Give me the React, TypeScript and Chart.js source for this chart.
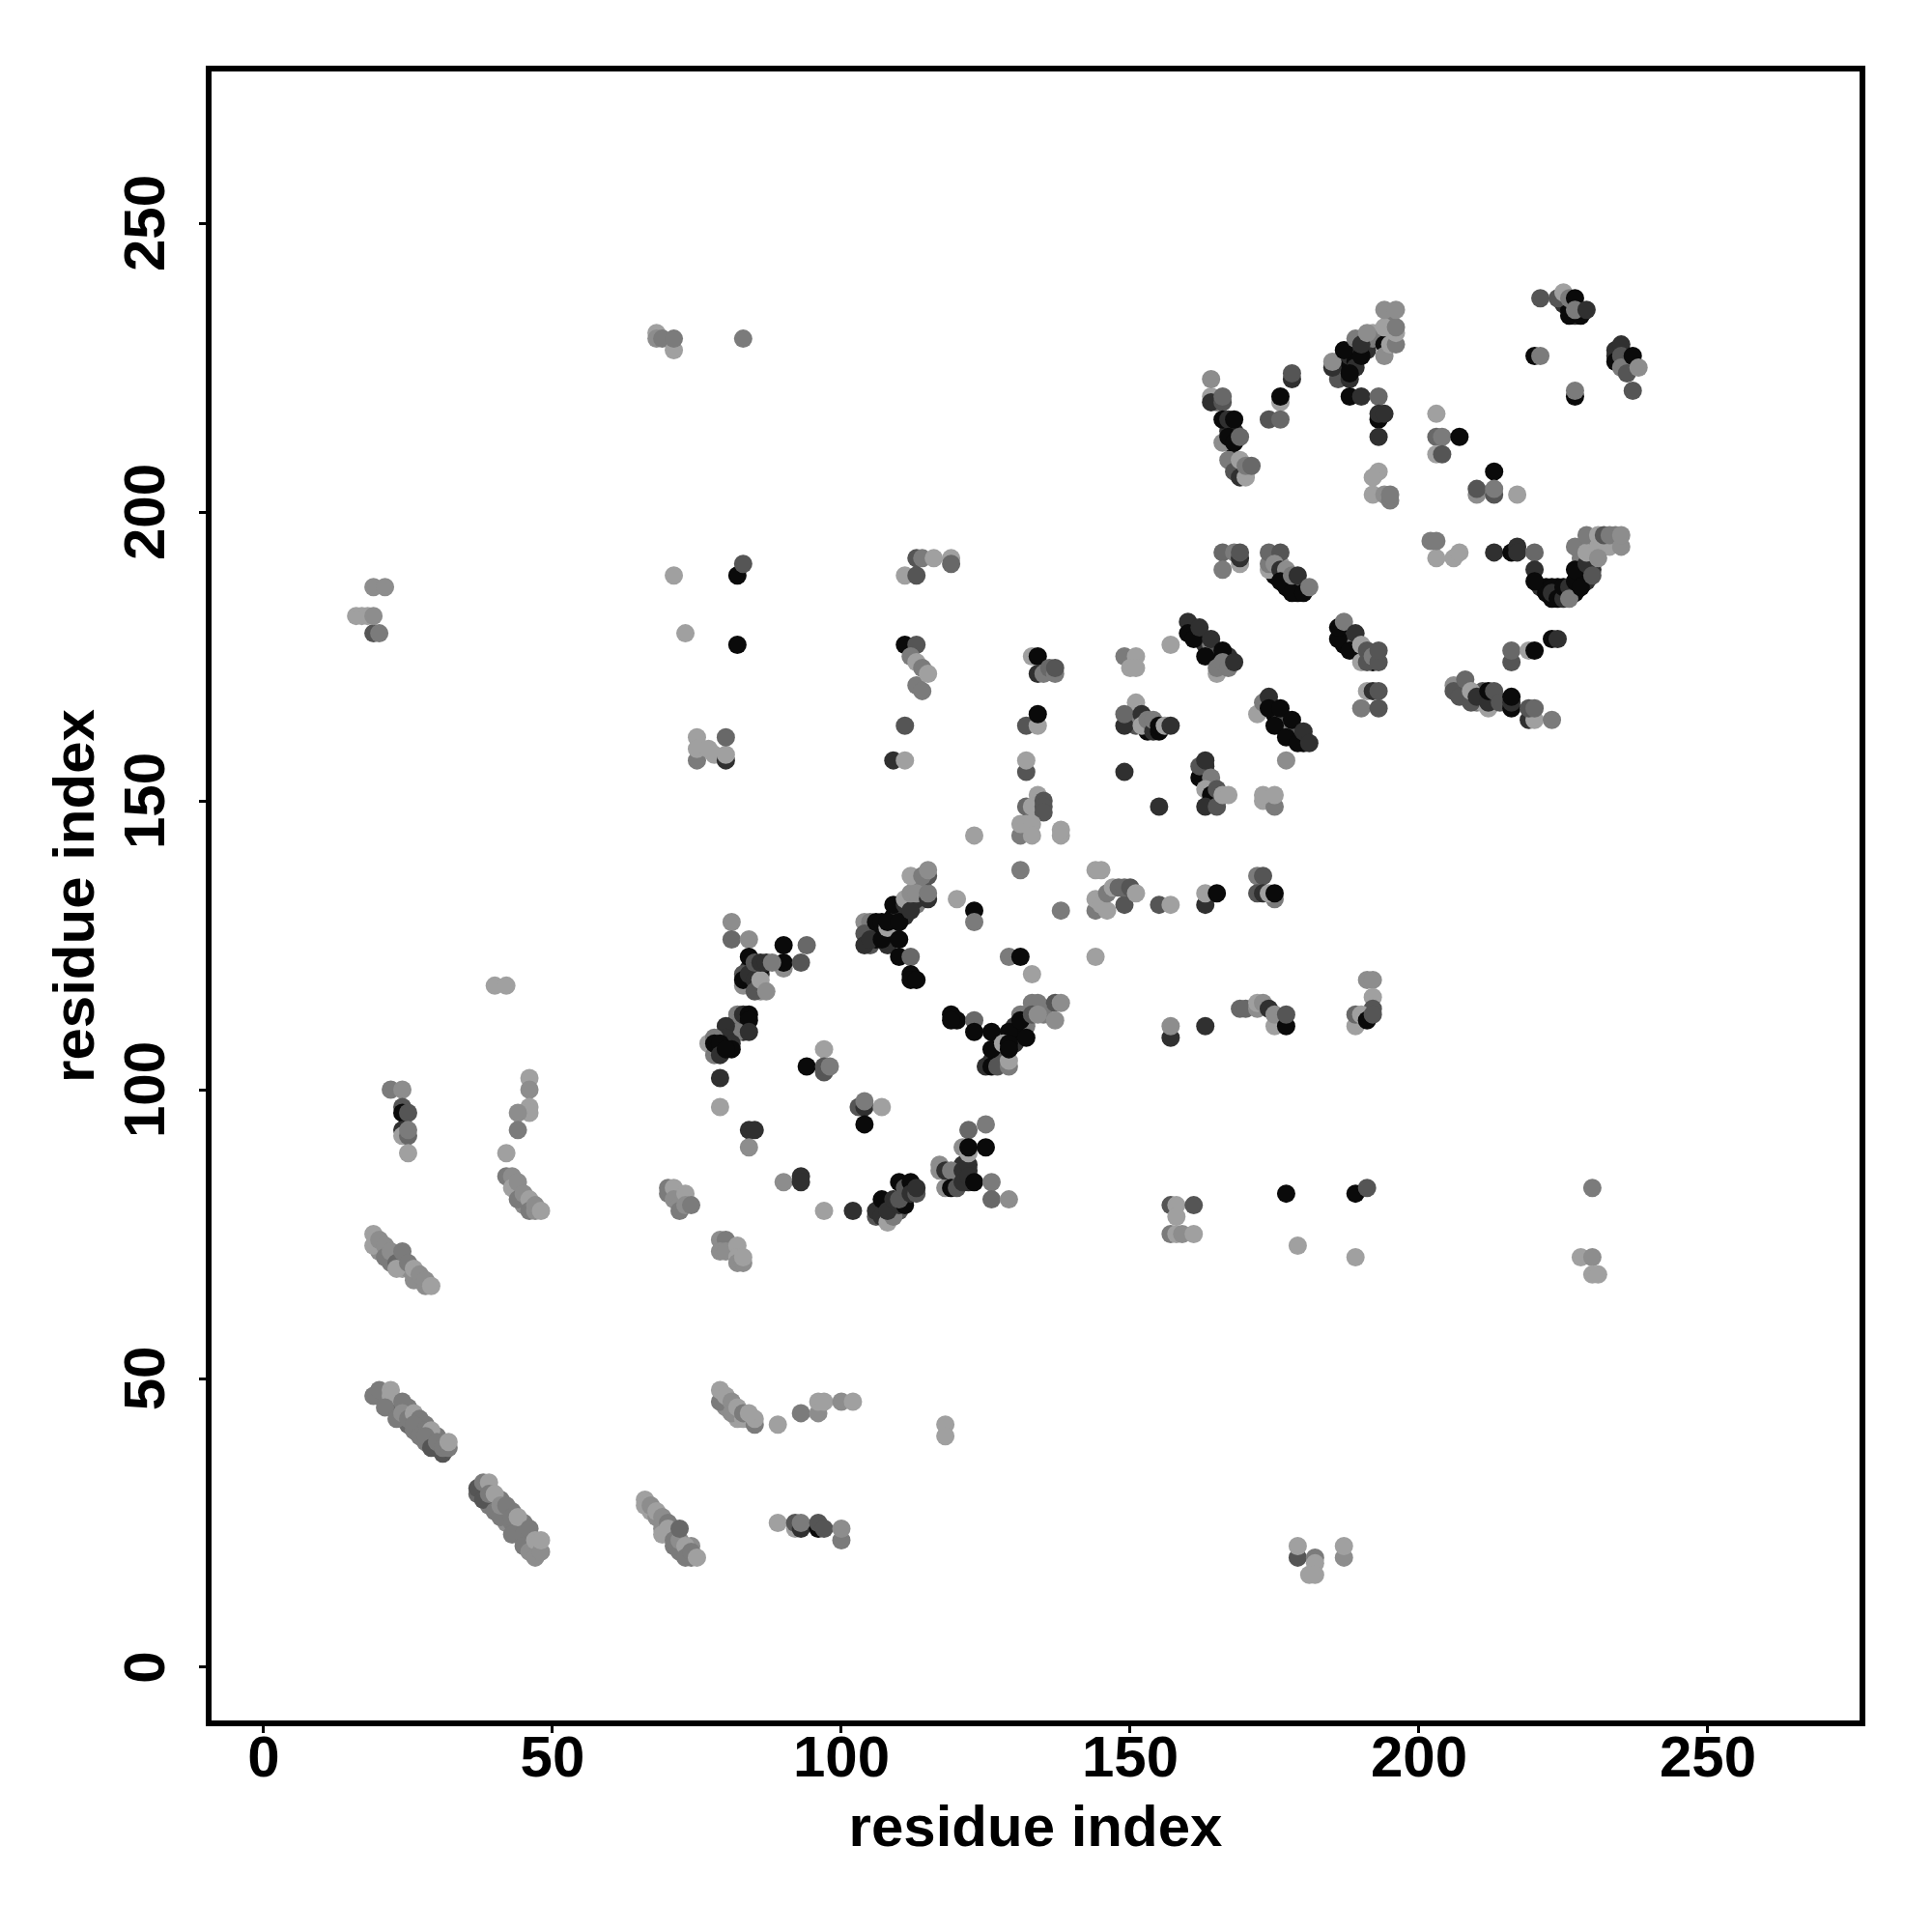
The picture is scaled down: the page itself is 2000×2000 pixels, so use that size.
import React, { useEffect, useRef } from "react";
import { Chart, registerables } from "chart.js";

Chart.register(...registerables);

// every row: residue i, residue j, shade (0 = near black ... 4 = light gray)
type Row = number[];

const contactsBandsLow: Row[] = [[21,46,3],[21,47,3],[23,45,3],[23,46,3],[24,45,2.5],[25,44,3],[25,45,3],[26,43,3],[27,42,2.5],[28,42,3],[29,40,3],[29,39,2.5],[30,38,2],[30,40,3],[31,39,3],[28,39,3],[27,41,3],[25,42,2.5],[26,41,3],[37,30,2.5],[38,30,2.5],[38,31,3],[39,31,3],[39,29,3],[39,28,3],[40,29,3],[40,28,2.5],[41,29,3],[41,27,3],[42,27,3],[42,26,3],[42,25,3.5],[43,25,3],[43,27,3],[44,25,3],[44,24,3],[45,25,3],[45,24,3],[46,22,3],[46,23,3],[47,21,3],[47,20,3],[67,27,4],[68,26,3.5],[69,25,3.5],[69,24,3.5],[70,23,3.5],[71,24,3.5],[71,23,3.5],[72,21,3],[72,20,3],[73,20,3],[74,19,3],[74,21,3.5],[20,72,3.5],[22,70,3],[23,71,3.5],[24,70,3.5],[24,69,4],[25,69,3.5],[26,68,3.5],[27,67,3.5],[26,67,3.5],[80,45,3.5],[82,44,3.5],[84,43,3.5],[82,43,4],[44,83,4],[45,80,3.5],[45,81,3.5],[44,82,4]];
const contactsBandsMid: Row[] = [[84,121,1],[85,120,2],[86,120,1],[86,121,0],[81,110,0],[81,111,0],[82,111,1],[82,112,0],[83,112,0],[83,111,0],[83,110,1],[80,108,0],[79,107,1],[79,109,2],[108,80,1],[108,78,2],[109,79,0],[109,80,1],[110,79,2],[111,81,0],[111,82,1],[112,83,0],[107,79,0],[107,80,0],[119,84,2],[120,85,3],[120,84,1],[121,85,2],[120,86,3],[121,87,1],[122,86,1],[122,84,1],[119,85,1],[107,128,1],[108,127,0],[109,128,1],[109,130,0],[110,131,1],[110,132,0],[111,130,1],[112,132,0],[113,132,3],[113,133,1],[114,134,3],[113,135,3],[114,135,1],[114,136,3],[105,127,3],[105,125,2],[106,127,2],[106,126,0],[108,125,1],[127,106,1],[128,106,0],[130,108,1],[131,110,0],[130,111,1],[131,109,1],[132,111,3],[128,107,2],[127,105,3],[126,105,1],[128,105,2],[130,110,0],[132,113,2],[131,113,3]];
const contactsBandsUpper: Row[] = [[161,180,2],[162,178,0],[163,178,2],[163,177,1],[164,176,0],[164,177,3],[165,175,1],[165,176,2],[166,175,0],[167,175,1],[167,174,0],[174,167,2],[175,165,0],[175,166,2],[176,164,0],[176,165,1],[177,163,0],[177,164,2],[178,162,0],[178,163,3],[179,161,0],[179,162,2],[180,160,0],[180,161,1],[187,178,0],[187,179,2],[187,177,0],[188,178,1],[189,177,3],[189,176,0],[190,176,1],[190,175,0],[191,175,2],[192,174,0],[175,189,0],[175,190,0],[176,189,1],[177,188,0],[177,187,0],[178,188,2],[179,187,0],[179,186,0],[178,187,1],[180,187,2],[176,191,4],[221,187,1],[222,186,0],[222,187,0],[223,185,0],[224,186,0],[224,187,0],[225,186,1],[226,186,0],[227,186,0],[228,189,1],[228,188,0],[229,188,1],[229,190,2],[230,191,3],[230,190,1],[228,190,0],[228,192,3],[230,193,0],[230,195,3],[232,194,4],[233,194,4],[234,196,3],[186,225,0],[186,226,1],[187,225,0],[187,224,0],[187,226,0],[188,225,0],[188,227,1],[189,226,0],[189,228,0],[189,225,1],[190,228,1],[191,228,1],[191,230,2],[192,230,3],[192,231,4],[193,231,4],[193,230,3],[195,231,4],[195,233,3],[207,169,1],[208,168,3],[208,169,2],[210,167,3],[211,167,4],[211,168,0],[213,167,0],[213,168,1],[211,169,2],[163,155,0],[163,154,1],[163,156,1],[164,153,2],[164,152,0],[165,150,1],[165,151,0],[164,150,2],[150,164,1],[151,163,2],[151,165,3],[153,162,0],[153,163,1],[165,219,3],[167,214,1],[167,212,0],[168,214,1],[168,209,1],[169,207,1],[169,208,2],[170,207,3],[225,236,1],[226,235,0],[227,234,1],[235,226,1],[236,226,2],[236,225,2],[234,228,1]];

const contactsLowA: Row[] = [[22,100,3],[24,100,3.5],[24,97,2],[24,96,0],[25,96,2],[24,93,1],[24,92,4],[25,92,2.5],[25,93,3],[25,89,4]];
const contactsLowB: Row[] = [[46,102,4],[46,100,3.5],[46,97,4],[46,96,4],[44,96,3.5],[44,93,3],[42,89,4],[42,85,3],[43,85,3.5],[43,83,4],[44,84,3.5],[44,81,3],[45,82,3.5],[46,81,4],[46,79,3],[47,79,3.5],[47,80,3.5],[48,79,4],[40,118,4],[42,118,4]];
const contactsLowC: Row[] = [[70,83,3],[70,82,3],[71,83,4],[71,81,3.5],[72,80,3.5],[72,79,3],[73,82,4],[73,80,3.5],[74,80,3]];
const contactsLowD: Row[] = [[19,75,4],[19,73,4],[20,74,3.5],[21,73,3.5],[21,71,3],[22,72,3.5],[23,70,2.5],[23,69,4],[24,72,3],[25,70,3],[26,69,4],[27,68,3.5],[28,66,3.5],[28,67,3.5],[29,66,4]];
const contactsLowE: Row[] = [[19,47,3],[20,48,3],[22,48,4],[22,47,4],[21,45,3],[24,46,3],[23,43,3],[24,44,3.5],[25,43,3],[26,44,4],[27,43,3],[26,42,3],[28,41,3],[29,41,4],[27,40,3],[28,40,3],[29,38,2],[30,39,3],[31,37,2],[31,38,3],[32,38,3],[32,39,4]];
const contactsLowF: Row[] = [[37,31,2],[38,29,2],[38,32,3],[39,32,4],[39,30,3],[40,30,4],[40,27,3],[41,26,3],[41,28,3.5],[42,28,3],[43,26,3],[43,23,3],[44,26,4],[45,23,3],[45,21,3],[46,24,3],[46,20,3.5],[47,22,4],[47,19,3.5],[48,20,3.5],[48,22,4]];
const contactsLowG: Row[] = [[66,29,4],[66,28,4],[67,28,3.5],[68,27,4],[69,26,3.5],[69,23,4],[70,25,3],[70,24,4],[71,21,3],[71,22,3],[72,22,3.5],[72,24,2.5],[73,21,4],[73,19,3],[74,20,3],[75,19,4]];
const contactsLowH: Row[] = [[79,46,3],[79,48,4],[80,47,4],[81,46,3.5],[81,44,3.5],[82,45,4],[83,43,4],[83,44,3],[85,42,3],[85,43,4],[84,44,4],[89,42,4],[93,44,3],[96,44,3.5],[96,46,4],[97,46,4],[100,46,3.5],[102,46,4],[118,42,4],[118,40,4]];
const contactsLowI: Row[] = [[89,25,4],[92,24,4],[92,25,2],[93,24,1],[93,25,3],[96,24,0],[96,25,2],[97,24,2],[100,22,3],[100,24,3.5]];
const contactsLowJ: Row[] = [[179,19,2],[179,21,4],[182,19,3],[182,18,4],[181,16,4],[182,16,4],[187,19,3.5],[187,21,4]];
const contactsLowK: Row[] = [[79,74,3.5],[80,74,3],[79,72,3.5],[80,72,3.5],[82,73,4],[82,71,4],[82,70,3.5],[83,70,3.5],[83,71,4]];

const contactsMidA: Row[] = [[81,129,3.5],[81,126,2.5],[84,126,3.5],[90,125,0],[94,125,2.5],[90,121,3.5],[90,122,0],[93,122,2],[83,118,3.5],[84,123,0],[83,120,2],[83,119,0],[84,120,1],[85,119,1],[85,122,2],[86,117,3.5],[85,117,2],[86,119,4],[87,117,3.5],[86,122,1],[87,122,1],[88,122,3]];
const contactsMidB: Row[] = [[82,113,3],[83,113,1],[84,113,0],[84,112,0],[82,110,3],[84,110,1],[80,111,1],[80,109,1],[81,108,1],[81,107,0],[77,108,4],[78,106,3],[78,109,3],[78,108,0],[79,108,0],[79,106,1],[80,107,0],[79,102,1],[79,97,4],[84,93,1],[85,93,1],[84,90,3.5]];
const contactsMidC: Row[] = [[97,107,4],[94,104,0],[97,103,2],[97,104,2],[98,104,3],[103,97,2],[104,97,1],[104,98,3],[107,97,4],[104,94,0],[90,84,3.5],[93,85,1],[93,84,1],[97,79,4],[102,79,1]];
const contactsMidD: Row[] = [[106,78,2],[106,79,1],[107,78,1],[108,77,4],[109,78,3],[107,81,0],[108,79,1],[109,81,1],[110,80,1],[111,80,0],[110,81,2],[110,84,0],[111,83,2],[112,84,0],[112,82,1],[113,82,2],[113,83,1]];
const contactsMidE: Row[] = [[117,87,3.5],[117,86,3.5],[118,83,3.5],[118,86,1],[119,86,3],[119,83,0],[120,83,2],[121,86,1],[121,84,1],[122,87,1],[122,85,1],[123,84,0],[122,93,2.5],[125,94,3],[121,90,3.5],[122,89,4],[122,90,0],[125,90,0],[126,84,3],[126,81,2.5],[129,81,3.5]];
const contactsMidF: Row[] = [[104,129,3.5],[105,129,3],[104,127,2],[104,125,1],[105,126,1],[106,129,0],[107,129,0],[107,126,0],[108,128,4],[108,129,0],[109,132,0],[110,129,0],[110,126,0],[110,123,0],[112,123,2.5],[112,120,0],[112,119,0],[113,119,0],[111,132,1],[111,133,4],[112,131,1],[112,134,3.5],[113,134,3.5],[115,133,1],[115,134,3],[112,137,4],[115,137,2],[114,137,3],[115,138,3.5]];
const contactsMidG: Row[] = [[120,133,4],[123,131,0],[123,129,3],[129,123,3],[131,123,0],[133,120,4],[131,138,3],[138,131,3]];
const contactsMidH: Row[] = [[119,113,0],[120,112,0],[119,112,0],[123,112,2.5],[123,110,0],[126,110,0],[129,110,0],[131,112,0],[132,109,0],[133,115,3],[134,115,3],[133,113,2],[135,113,3],[134,113,3.5],[137,115,2],[138,115,3.5],[137,112,3.5],[125,104,1],[126,104,0],[126,107,0],[127,104,2],[129,104,3],[129,105,4],[128,108,4],[129,108,0],[129,107,0]];

const contactsUpperA: Row[] = [[133,175,4],[134,175,0],[134,172,1],[135,172,3],[136,173,2.5],[137,172,3],[137,173,2],[132,163,2],[134,163,4],[134,165,0],[132,155,2],[132,157,4],[134,151,4],[132,149,2.5],[133,149,4],[135,150,2],[135,149,2],[135,148,2],[131,144,3],[131,146,4],[132,146,4],[133,146,4],[133,144,4],[138,144,4],[138,145,4],[123,144,4]];
const contactsUpperB: Row[] = [[144,138,4],[145,138,4],[144,131,3],[144,133,4],[145,132,4],[146,131,4],[146,134,3],[147,135,4],[149,132,2],[148,135,2.5],[149,135,2.5],[150,135,2],[151,134,4],[155,132,2],[157,132,4],[163,132,1],[163,134,4],[165,134,0],[172,137,3],[173,137,2],[172,134,2],[173,134,1],[175,133,3],[174,134,4],[175,134,0],[144,123,4]];
const contactsUpperC: Row[] = [[169,114,2.5],[170,114,2.5],[172,114,3.5],[172,115,4],[173,115,3.5],[174,114,1],[175,111,4],[175,113,3.5],[177,111,0],[177,113,2],[157,109,1],[157,111,3.5],[163,111,1],[191,119,3.5],[192,119,3.5],[192,116,4],[192,114,2],[189,111,4],[189,113,2.5],[190,113,4],[191,112,0],[192,113,2]];
const contactsUpperD: Row[] = [[149,175,3],[151,175,4],[150,173,4],[151,173,4],[157,177,4],[151,167,4],[149,163,1],[149,165,2.5],[152,165,1],[152,163,4],[153,164,3],[154,162,1],[154,164,3],[155,162,0],[155,163,0],[156,163,4],[157,163,1],[149,155,1],[155,149,1]];
const contactsUpperE: Row[] = [[162,154,0],[162,156,2],[163,157,1],[164,154,3],[163,152,4],[164,151,0],[165,152,2],[163,149,1],[165,149,2],[166,151,4],[167,151,4],[173,150,4],[175,149,3],[173,151,4],[175,151,4]];
const contactsUpperF: Row[] = [[165,172,4],[160,181,1],[160,179,0],[161,178,0],[162,180,1],[163,175,0],[164,178,1],[166,176,0],[165,173,3],[166,174,3],[167,173,3],[168,174,1],[172,165,4],[173,167,3],[174,168,1],[174,166,0],[176,166,0],[175,163,0],[178,164,0],[177,161,0],[179,160,0],[180,162,1],[181,160,1],[177,157,3.5]];
const contactsUpperG: Row[] = [[186,178,0],[186,180,0],[187,181,3],[188,176,0],[189,179,1],[190,177,4],[190,174,4],[191,176,2],[191,174,2],[192,175,3],[193,174,2],[193,176,2],[191,169,4],[192,169,1],[193,169,2],[190,166,3],[193,166,2]];
const contactsUpperH: Row[] = [[164,220,4],[164,219,1],[164,223,3.5],[166,219,2],[166,220,2.5],[178,223,1],[178,224,2],[176,219,4],[176,220,0],[174,216,2],[176,216,2.5],[166,216,0],[167,216,1],[168,216,0],[166,212,3.5],[167,213,0],[168,212,0],[169,213,2.5],[167,209,3],[168,207,2],[169,206,1],[170,206,4],[169,209,4],[170,208,3],[171,208,2.5]];
const contactsUpperI: Row[] = [[186,223,2],[185,225,1],[185,226,3.5],[188,223,1],[187,228,0],[188,224,0],[189,230,3],[190,227,0],[190,229,1],[191,231,3.5],[194,229,0],[194,227,3.5],[194,232,4],[195,229,4],[196,229,3],[196,231,4],[196,232,3],[194,235,3.5],[196,235,3.5],[188,220,0],[190,220,1],[193,220,2.5],[193,216,0],[193,217,1],[194,217,1],[193,213,1]];
const contactsUpperJ: Row[] = [[193,207,4],[192,206,4],[192,203,4],[194,203,3.5],[195,202,3],[195,203,3],[203,217,4],[203,213,2.5],[204,213,3],[207,213,0],[203,210,4],[204,210,2],[213,207,0],[210,203,3.5],[210,204,2],[213,203,2],[213,204,3],[217,203,4]];
const contactsUpperK: Row[] = [[221,237,2],[224,237,2],[225,238,4],[226,237,3],[226,234,0],[228,234,0],[227,237,0],[227,235,3],[229,235,1],[220,227,0],[221,227,3],[227,220,0],[227,221,3],[234,227,1],[234,226,0],[235,229,1],[235,227,2],[235,225,3],[237,227,0],[236,224,2],[238,225,3.5],[237,221,2]];
const contactsUpperL: Row[] = [[166,193,2.5],[168,193,3],[169,191,4],[169,192,1],[169,193,2],[166,190,3],[174,190,4],[174,191,3],[174,193,2.5],[176,193,2],[175,191,3.5],[176,190,1],[177,190,3.5],[176,188,0],[178,186,0],[180,186,0],[178,189,3],[179,189,1],[181,187,3]];
const contactsUpperM: Row[] = [[203,192,4],[202,195,3],[203,195,3],[206,192,4],[207,193,4],[213,193,1],[216,193,0],[217,194,1],[217,193,1],[220,193,2.5],[220,190,1],[220,188,0],[223,187,0],[223,186,1],[224,185,0],[225,185,1],[225,187,0],[226,187,1],[226,185,3],[227,188,0],[227,190,0],[228,187,0],[229,191,1],[230,189,2],[229,194,0],[227,194,3],[229,193,4],[229,196,3],[231,194,4],[231,196,4],[231,192,3.5],[232,196,2],[233,196,3],[235,194,3.5],[235,196,3.5]];
const contactsUpperN: Row[] = [[206,170,3.5],[206,169,2],[207,168,2],[208,171,2.5],[209,167,2],[209,169,4],[210,168,1],[212,166,4],[212,167,1],[212,169,0],[213,169,2],[214,167,2],[216,166,0],[216,167,1],[216,168,0],[219,164,1],[220,164,4],[219,166,2],[220,166,2.5],[223,164,3],[216,174,2],[216,176,2.5],[219,176,4],[220,176,0],[223,178,0],[224,178,1]];
const contactsFarA: Row[] = [[19,187,3.5],[21,187,3.5],[16,182,4],[17,182,4],[19,179,2],[20,179,3],[18,182,4],[19,182,3.5],[68,231,4],[68,230,3.5],[69,230,3],[71,228,4],[71,230,3],[83,230,3],[71,189,4],[82,189,0],[83,191,2],[73,179,4],[82,177,0],[75,157,3],[75,161,4],[75,159,4],[77,159,4],[78,158,4],[80,157,1],[80,158,4],[80,161,2.5]];
const contactsFarB: Row[] = [[109,157,1],[111,157,4],[111,163,2],[111,177,0],[113,177,2],[112,175,3],[113,174,4],[113,170,3],[114,173,3],[114,169,3],[115,172,4],[111,189,4],[113,189,2],[113,192,2],[114,192,3],[116,192,4],[119,192,4],[119,191,2.5]];
const contactsFarC: Row[] = [[230,83,3],[228,71,4],[230,71,3.5],[230,68,4],[231,68,4],[177,82,0],[189,82,0],[191,83,2],[179,73,4],[189,71,4],[157,80,2],[158,80,4],[161,80,2],[158,78,4],[157,75,3],[158,75,4],[159,75,3.5],[161,75,4]];

const allContacts: Row[] = [
  contactsBandsLow, contactsBandsMid, contactsBandsUpper,
  contactsLowA, contactsLowB, contactsLowC, contactsLowD, contactsLowE, contactsLowF,
  contactsLowG, contactsLowH, contactsLowI, contactsLowJ, contactsLowK,
  contactsMidA, contactsMidB, contactsMidC, contactsMidD, contactsMidE, contactsMidF,
  contactsMidG, contactsMidH,
  contactsUpperA, contactsUpperB, contactsUpperC, contactsUpperD, contactsUpperE,
  contactsUpperF, contactsUpperG, contactsUpperH, contactsUpperI, contactsUpperJ,
  contactsUpperK, contactsUpperL, contactsUpperM, contactsUpperN,
  contactsFarA, contactsFarB, contactsFarC,
].flat();

const axisTitle = "residue index";
const axisFont = { family: "'Liberation Sans'", size: 60, weight: "bold" as const, lineHeight: 1 };

const shadeToGray = (s: number) => {
  const g = Math.round(10 + s * 37.5);
  return `rgb(${g},${g},${g})`;
};

const framePlugin = {
  id: "frame",
  afterDatasetsDraw(chart: Chart) {
    const { ctx, chartArea: a } = chart;
    ctx.save();
    ctx.strokeStyle = "#000";
    ctx.lineWidth = 6;
    ctx.strokeRect(a.left, a.top, a.right - a.left, a.bottom - a.top);
    ctx.restore();
  },
};

export default function App() {
  const ref = useRef<HTMLCanvasElement>(null);
  useEffect(() => {
    const grid = {
      display: true,
      drawOnChartArea: false,
      drawTicks: true,
      tickLength: 10,
      tickWidth: 3,
      tickColor: "#000",
    };
    const chart = new Chart(ref.current!, {
      type: "scatter",
      plugins: [framePlugin],
      data: {
        datasets: [
          {
            data: allContacts.map(([x, y]) => ({ x, y })),
            pointBackgroundColor: allContacts.map((r) => shadeToGray(r[2])),
            pointBorderWidth: 0,
            pointRadius: 9.5,
          },
        ],
      },
      options: {
        animation: false,
        responsive: false,
        layout: { padding: { top: 71, right: 72, left: 0, bottom: 0 } },
        plugins: { legend: { display: false }, tooltip: { enabled: false } },
        scales: {
          x: {
            type: "linear",
            min: -9.53,
            max: 276.76,
            border: { display: false },
            grid,
            afterFit: (s: any) => { s.height = 216; },
            ticks: { stepSize: 50, includeBounds: false, autoSkip: false, maxRotation: 0, color: "#000", font: axisFont, padding: -2 },
            title: { display: true, text: axisTitle, color: "#000", font: axisFont, padding: { top: 0, bottom: 76 } },
          },
          y: {
            type: "linear",
            min: -9.7,
            max: 276.76,
            border: { display: false },
            grid,
            afterFit: (s: any) => { s.width = 216; },
            ticks: { stepSize: 50, includeBounds: false, autoSkip: false, minRotation: 90, maxRotation: 90, crossAlign: "center", color: "#000", font: axisFont, padding: 2 },
            title: { display: true, text: axisTitle, color: "#000", font: axisFont, padding: { top: 50, bottom: 0 } },
          },
        },
      },
    } as any);
    return () => chart.destroy();
  }, []);
  return (
    <div style={{ position: "absolute", left: 0, top: 0, width: 2000, height: 2000, background: "#fff" }}>
      <canvas ref={ref} width={2000} height={2000} style={{ display: "block" }} />
    </div>
  );
}
